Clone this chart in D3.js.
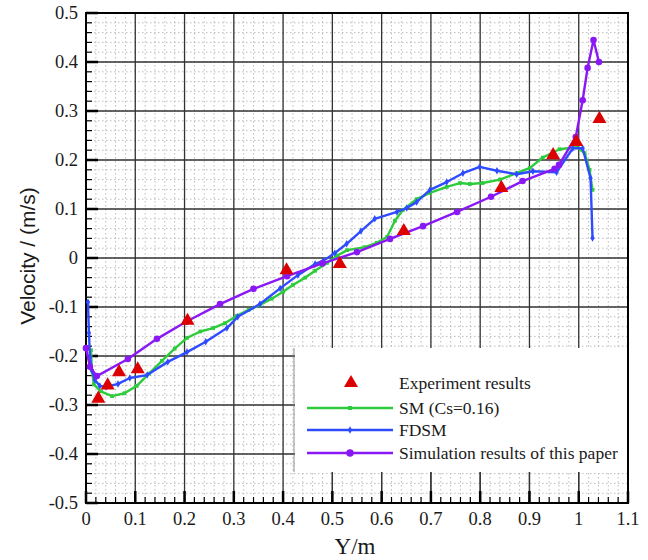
<!DOCTYPE html>
<html><head><meta charset="utf-8">
<script src="https://cdn.jsdelivr.net/npm/d3@7"></script>
<style>body{margin:0;background:#fff}svg{display:block}</style>
</head><body><svg id="c" width="648" height="560"></svg>
<script>
const xTicks = [0,0.1,0.2,0.3,0.4,0.5,0.6,0.7,0.8,0.9,1,1.1];
const xTickLabels = ["0","0.1","0.2","0.3","0.4","0.5","0.6","0.7","0.8","0.9","1","1.1"];
const yTicks = [0.5,0.4,0.3,0.2,0.1,0,-0.1,-0.2,-0.3,-0.4,-0.5];
const yTickLabels = ["0.5","0.4","0.3","0.2","0.1","0","-0.1","-0.2","-0.3","-0.4","-0.5"];
const seriesNames = ["Experiment results","SM (Cs=0.16)","FDSM","Simulation results of this paper"];

const experiment = [[0.025,-0.287],[0.044,-0.26],[0.067,-0.233],[0.105,-0.227],[0.206,-0.128],[0.407,-0.025],[0.515,-0.012],[0.645,0.055],[0.843,0.143],[0.948,0.21],[0.995,0.237],[1.042,0.284]];

const sm = [[0.01,-0.188],[0.012,-0.23],[0.016,-0.258],[0.03,-0.272],[0.053,-0.282],[0.078,-0.276],[0.103,-0.261],[0.128,-0.236],[0.154,-0.21],[0.18,-0.185],[0.205,-0.163],[0.232,-0.15],[0.258,-0.143],[0.282,-0.133],[0.306,-0.118],[0.33,-0.106],[0.353,-0.096],[0.377,-0.083],[0.4,-0.069],[0.42,-0.055],[0.445,-0.04],[0.465,-0.026],[0.489,-0.01],[0.51,0.005],[0.53,0.016],[0.566,0.022],[0.59,0.031],[0.611,0.043],[0.627,0.076],[0.643,0.098],[0.671,0.12],[0.698,0.133],[0.732,0.145],[0.759,0.153],[0.779,0.151],[0.805,0.153],[0.84,0.16],[0.874,0.173],[0.901,0.184],[0.927,0.205],[0.961,0.222],[0.996,0.226],[1.012,0.214],[1.022,0.18],[1.028,0.139]];

const fdsm = [[0.004,-0.09],[0.006,-0.153],[0.008,-0.202],[0.012,-0.229],[0.018,-0.249],[0.028,-0.261],[0.041,-0.263],[0.065,-0.257],[0.089,-0.245],[0.124,-0.239],[0.166,-0.212],[0.205,-0.192],[0.243,-0.171],[0.286,-0.143],[0.308,-0.12],[0.353,-0.094],[0.394,-0.062],[0.43,-0.035],[0.465,-0.012],[0.481,-0.006],[0.505,0.01],[0.529,0.029],[0.558,0.055],[0.586,0.08],[0.631,0.094],[0.651,0.102],[0.671,0.114],[0.698,0.139],[0.732,0.155],[0.765,0.173],[0.799,0.186],[0.834,0.178],[0.874,0.171],[0.907,0.177],[0.955,0.175],[0.988,0.224],[1.008,0.224],[1.024,0.163],[1.028,0.041]];

const paper = [[0.0,-0.184],[0.008,-0.222],[0.022,-0.241],[0.085,-0.206],[0.144,-0.165],[0.203,-0.13],[0.272,-0.094],[0.34,-0.063],[0.408,-0.037],[0.48,-0.011],[0.55,0.012],[0.617,0.039],[0.684,0.065],[0.753,0.094],[0.822,0.125],[0.886,0.157],[0.951,0.182],[0.96,0.19],[0.994,0.247],[1.008,0.322],[1.018,0.388],[1.03,0.445],[1.041,0.40]];

const svg = d3.select("#c");
const L=86,R=628,T=13,B=503;
const x = d3.scaleLinear().domain([0,1.1]).range([L,R]);
const y = d3.scaleLinear().domain([-0.5,0.5]).range([B,T]);
const serif = "'Liberation Serif','Times New Roman',serif";
const sans = "'Liberation Sans',Arial,sans-serif";

// minor grid
const minorX = d3.range(0,1.1001,0.02).map(v=>+v.toFixed(3));
const minorY = d3.range(-0.5,0.5001,0.02).map(v=>+v.toFixed(3));
const g = svg.append("g");
g.selectAll(".mx").data(minorX).join("line").attr("x1",d=>x(d)).attr("x2",d=>x(d)).attr("y1",T).attr("y2",B)
 .attr("stroke","#b4b4b4").attr("stroke-width",0.9).attr("stroke-dasharray","1.5,2.5");
g.selectAll(".my").data(minorY).join("line").attr("y1",d=>y(d)).attr("y2",d=>y(d)).attr("x1",L).attr("x2",R)
 .attr("stroke","#b4b4b4").attr("stroke-width",0.9).attr("stroke-dasharray","1.5,2.5");
// major grid
g.selectAll(".Mx").data(xTicks).join("line").attr("x1",d=>x(d)).attr("x2",d=>x(d)).attr("y1",T).attr("y2",B)
 .attr("stroke","#333").attr("stroke-width",1.3);
g.selectAll(".My").data(yTicks).join("line").attr("y1",d=>y(d)).attr("y2",d=>y(d)).attr("x1",L).attr("x2",R)
 .attr("stroke","#333").attr("stroke-width",1.3);

// legend background (covers grid)
const lg = svg.append("g");
lg.append("rect").attr("x",295).attr("y",348).attr("width",R-295).attr("height",124).attr("fill","#fff");
lg.append("line").attr("x1",294).attr("x2",294).attr("y1",348).attr("y2",472).attr("stroke","#777").attr("stroke-width",0.8);
svg.append("g").selectAll("line").data(xTicks.filter(d=>x(d)>295)).join("line")
 .attr("x1",d=>x(d)).attr("x2",d=>x(d)).attr("y1",472).attr("y2",B).attr("stroke","#333").attr("stroke-width",1.3);

// axes (ticks inside)
const ax = svg.append("g");
ax.selectAll(".tb").data(minorX).join("line").attr("x1",d=>x(d)).attr("x2",d=>x(d)).attr("y1",B).attr("y2",B-6).attr("stroke","#000").attr("stroke-width",1.2);
ax.selectAll(".tB").data(xTicks).join("line").attr("x1",d=>x(d)).attr("x2",d=>x(d)).attr("y1",B).attr("y2",B-12).attr("stroke","#000").attr("stroke-width",2.5);
ax.selectAll(".tl").data(minorY).join("line").attr("y1",d=>y(d)).attr("y2",d=>y(d)).attr("x1",L).attr("x2",L+6).attr("stroke","#000").attr("stroke-width",1.2);
ax.selectAll(".tL").data(yTicks).join("line").attr("y1",d=>y(d)).attr("y2",d=>y(d)).attr("x1",L).attr("x2",L+12).attr("stroke","#000").attr("stroke-width",2.5);
ax.append("rect").attr("x",L).attr("y",T).attr("width",R-L).attr("height",B-T).attr("fill","none").attr("stroke","#000").attr("stroke-width",2);

ax.selectAll(".xl").data(xTicks).join("text").attr("x",d=>x(d)).attr("y",525).attr("text-anchor","middle")
 .attr("font-family",serif).attr("font-size",18.5).attr("fill","#1a1a1a").text((d,i)=>xTickLabels[i]);
ax.selectAll(".yl").data(yTicks).join("text").attr("x",78).attr("y",d=>y(d)+6).attr("text-anchor","end")
 .attr("font-family",serif).attr("font-size",18.5).attr("fill","#1a1a1a").text((d,i)=>yTickLabels[i]);

svg.append("text").attr("x",355).attr("y",554).attr("text-anchor","middle").attr("font-family",serif).attr("font-size",23).attr("fill","#1a1a1a").text("Y/m");
svg.append("text").attr("transform","translate(35,256) rotate(-90)").attr("text-anchor","middle").attr("font-family",sans).attr("font-size",21).attr("fill","#1a1a1a").text("Velocity / (m/s)");

// series
const line = d3.line().x(d=>x(d[0])).y(d=>y(d[1]));
const colors = {sm:"#2ecc3c", fdsm:"#2f4bff", paper:"#8a18f5", exp:"#dd0000"};
const data = svg.append("g");
function drawSeries(arr,color,w,mk,size){
  data.append("path").datum(arr).attr("d",line).attr("fill","none").attr("stroke",color).attr("stroke-width",w).attr("stroke-linejoin","round");
  data.append("g").selectAll("path").data(arr).join("path")
   .attr("transform",d=>`translate(${x(d[0])},${y(d[1])})`)
   .attr("d",d3.symbol().type(mk).size(size)).attr("fill",color);
}
drawSeries(sm,colors.sm,2.4,d3.symbolSquare,14);
drawSeries(fdsm,colors.fdsm,2.4,d3.symbolDiamond,16);
drawSeries(paper,colors.paper,2.4,d3.symbolCircle,34);
data.append("g").selectAll("path").data(experiment).join("path")
 .attr("transform",d=>`translate(${x(d[0])},${y(d[1])})`)
 .attr("d",d3.symbol().type(d3.symbolTriangle).size(85)).attr("fill",colors.exp);

// legend entries
const items = [
 {name:seriesNames[0],color:colors.exp,type:"tri",y:383},
 {name:seriesNames[1],color:colors.sm,type:d3.symbolSquare,y:408,size:16},
 {name:seriesNames[2],color:colors.fdsm,type:d3.symbolDiamond,y:430,size:16},
 {name:seriesNames[3],color:colors.paper,type:d3.symbolCircle,y:453,size:44}
];
items.forEach(it=>{
  if(it.type==="tri"){
    lg.append("path").attr("transform",`translate(351,${it.y})`).attr("d",d3.symbol().type(d3.symbolTriangle).size(85)).attr("fill",it.color);
  } else {
    lg.append("line").attr("x1",307).attr("x2",393).attr("y1",it.y).attr("y2",it.y).attr("stroke",it.color).attr("stroke-width",2.4);
    lg.append("path").attr("transform",`translate(350,${it.y})`).attr("d",d3.symbol().type(it.type).size(it.size)).attr("fill",it.color);
  }
  lg.append("text").attr("x",399).attr("y",it.y+6).attr("font-family",serif).attr("font-size",17.5).attr("fill","#1a1a1a").text(it.name);
});
</script></body></html>
